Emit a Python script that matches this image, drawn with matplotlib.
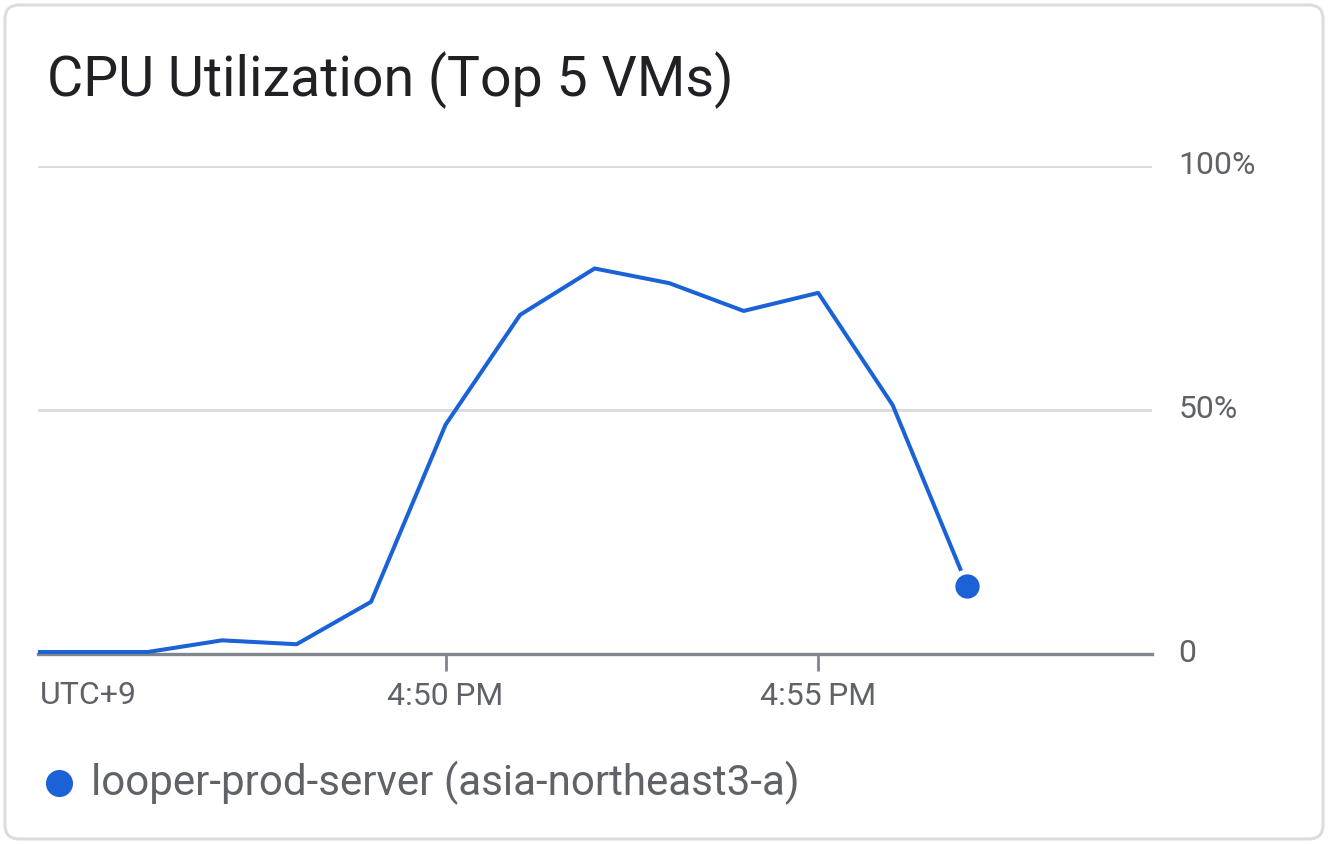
import matplotlib
matplotlib.use("Agg")
import matplotlib.pyplot as plt
import matplotlib.transforms as mtransforms
from matplotlib.patches import FancyBboxPatch
from matplotlib.lines import Line2D

plt.rcParams['font.family'] = ['Roboto', 'DejaVu Sans']

# data: minutes after 4:00 PM, cpu %
minutes = [44, 45, 46, 47, 48, 49, 50, 51, 52, 53, 54, 55, 56, 57]
cpu_pct = [0.4, 0.4, 0.4, 2.8, 2.0, 10.7, 47, 69.5, 79, 76, 70.3, 74, 51, 14]
x_ticks = [50, 55]
x_tick_labels = ["4:50\u2009PM", "4:55\u2009PM"]
y_ticks = [0, 50, 100]
y_tick_labels = ["0", "50%", "100%"]
series_name = "looper-prod-server (asia-northeast3-a)"

blue = "#1a62d6"
grid_col = "#dadce0"
axis_col = "#80868b"
label_col = "#5f6368"

fig = plt.figure(figsize=(13.28, 8.44), dpi=100)

# card outline, kept behind the axes
card = FancyBboxPatch((0.05, 0.05), 13.18, 8.34,
                      boxstyle="round,pad=0,rounding_size=0.14",
                      transform=fig.dpi_scale_trans,
                      facecolor="white", edgecolor=grid_col, linewidth=2.2,
                      zorder=-10)
fig.patches.append(card)

fig.text(47 / 1328, 1 - 96 / 844, "CPU Utilization (Top 5 VMs)",
         fontsize=40, color="#202124", ha="left", va="baseline")

ax = fig.add_axes([38 / 1328, 1 - 654 / 844, (1152 - 38) / 1328, (654 - 166) / 844])
ax.set_facecolor("none")
ax.set_xlim(44.53, 59.48)
ax.set_ylim(0, 100)

for y in [50, 100]:
    ax.axhline(y, color=grid_col, lw=2.2, zorder=1)

ax.plot(minutes, cpu_pct, color=blue, lw=2.9, zorder=3)
ax.plot(minutes[-1], cpu_pct[-1], 'o', color=blue, ms=21,
        mec="white", mew=3.5, zorder=4, clip_on=False)

for s in ["top", "left", "right"]:
    ax.spines[s].set_visible(False)
ax.spines["bottom"].set_color(axis_col)
ax.spines["bottom"].set_linewidth(2.4)

ax.set_xticks(x_ticks)
ax.set_xticklabels(x_tick_labels)
ax.tick_params(axis="x", length=12, width=2, color=axis_col, labelsize=23,
               labelcolor=label_col, pad=8)
ax.yaxis.tick_right()
ax.set_yticks(y_ticks)
ax.set_yticklabels(y_tick_labels)
ax.tick_params(axis="y", length=0, labelsize=23, labelcolor=label_col, pad=19)
# nudge the y labels up a little
lift = mtransforms.ScaledTranslation(0, 4 / 100, fig.dpi_scale_trans)
for lbl in ax.get_yticklabels():
    lbl.set_ha("left")
    lbl.set_transform(lbl.get_transform() + lift)

ax.text(0.002, -0.055, "UTC+9", transform=ax.transAxes, fontsize=23,
        color=label_col, ha="left", va="top")

# legend
fig.add_artist(Line2D([59 / 1328], [1 - 783 / 844], marker='o', color=blue,
                      ms=19.5, mew=0, transform=fig.transFigure))
fig.text(91 / 1328, 1 - 783 / 844, series_name, fontsize=30.3, color=label_col,
         ha="left", va="center")

fig.savefig("out.png", dpi=100)
